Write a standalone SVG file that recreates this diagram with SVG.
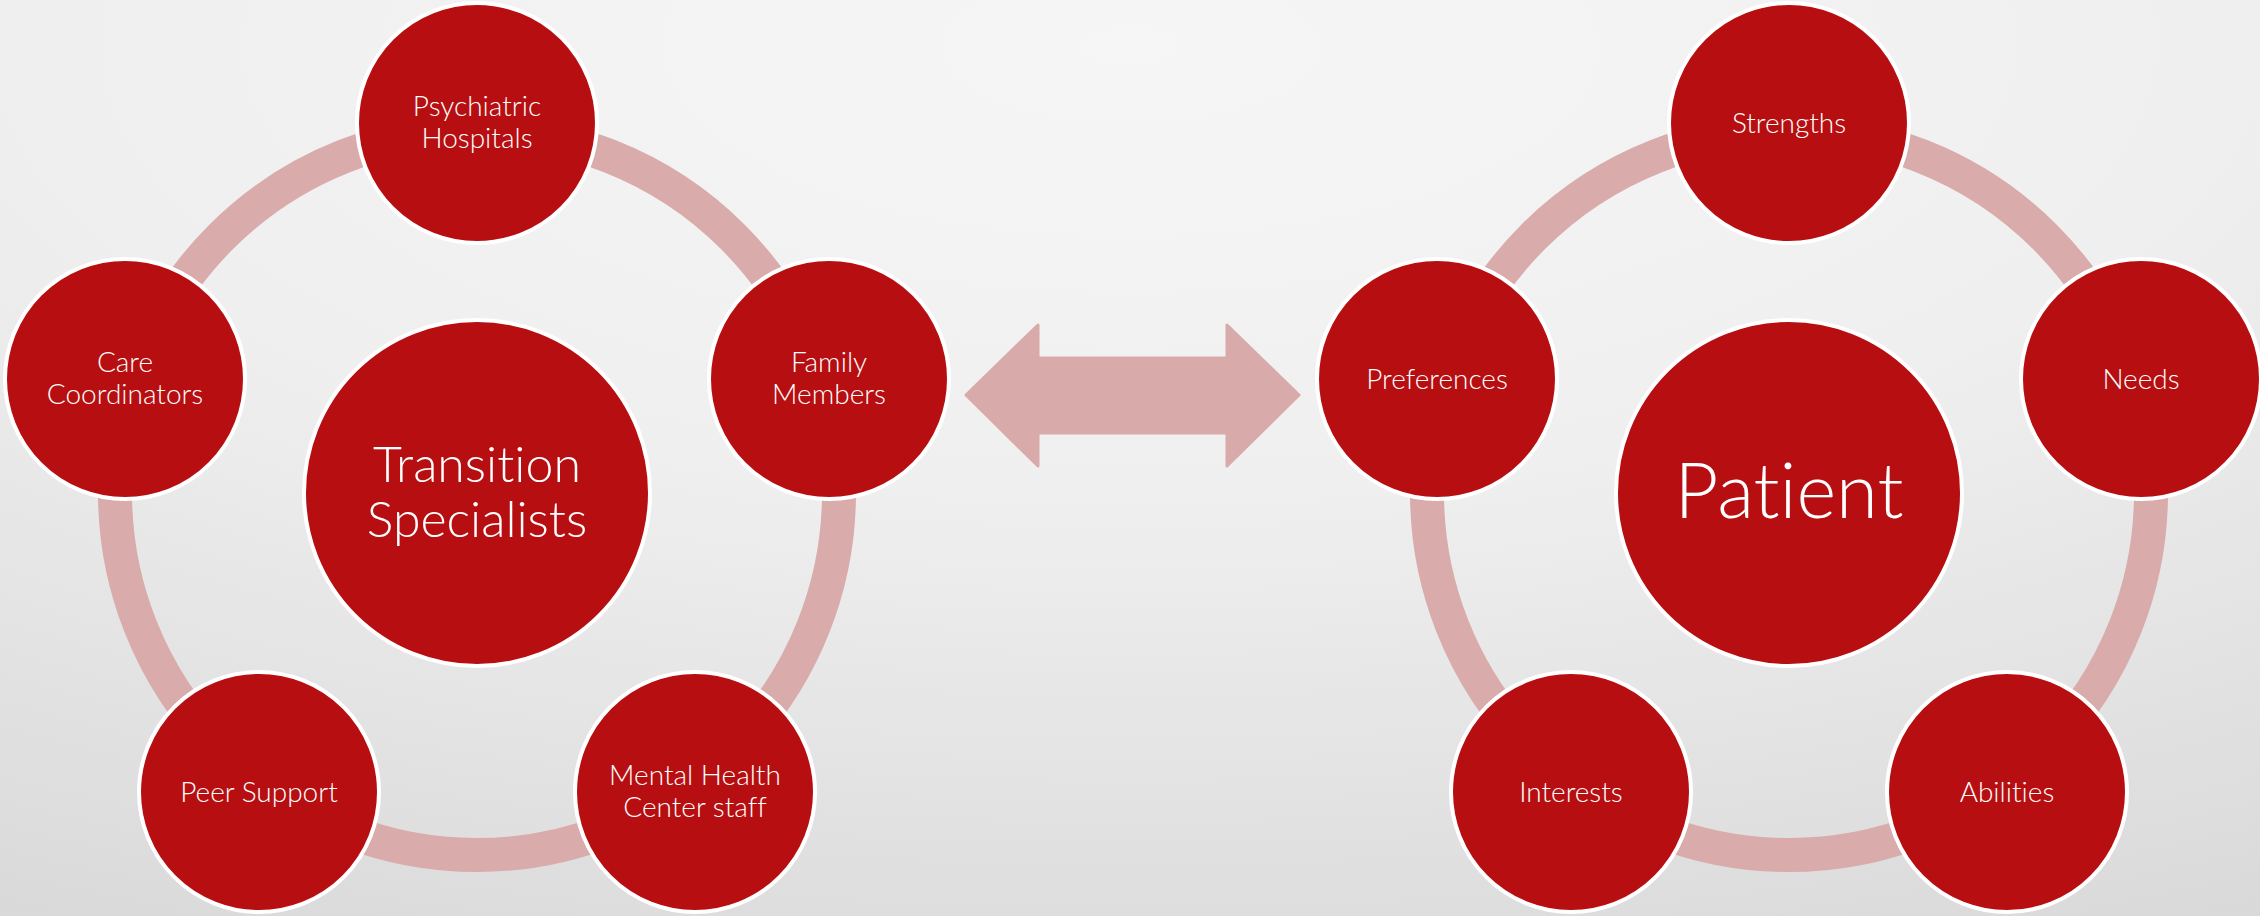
<svg xmlns="http://www.w3.org/2000/svg" width="2260" height="916" viewBox="0 0 2260 916">
<defs>
<radialGradient id="bg" cx="0.5" cy="0.05" r="1.1" gradientUnits="objectBoundingBox">
<stop offset="0" stop-color="#f6f6f6"/>
<stop offset="0.45" stop-color="#efefef"/>
<stop offset="1" stop-color="#d8d8d8"/>
</radialGradient>
<style>
.ring{fill:none;stroke:#d9abab;stroke-width:34}
.node{fill:#b70f11;stroke:#ffffff;stroke-width:4}
.t{fill:#ffffff;font-family:Lato,"Open Sans","Liberation Sans",sans-serif;font-weight:300;text-anchor:middle;font-variant-ligatures:none}
.s{font-size:28px}
.m{font-size:50px}
.l{font-size:76px}
.arrow{fill:#d9aaaa;stroke:#d9aaaa;stroke-width:3;stroke-linejoin:round}
</style>
</defs>
<rect width="2260" height="916" fill="url(#bg)"/>
<g id="connectors">
<circle class="ring" cx="477" cy="493" r="362"/>
<circle class="ring" cx="1789" cy="493" r="362"/>
<polygon class="arrow" points="966,395 1038,325 1038,358 1227,358 1227,325 1299,395 1227,466 1227,433 1038,433 1038,466"/>
</g>
<g id="transition-specialists">
<circle class="node" cx="477" cy="493" r="173"/>
<text class="t m" x="477" y="482">Transition</text>
<text class="t m" x="477" y="537">Specialists</text>
</g>
<g id="psychiatric-hospitals">
<circle class="node" cx="477" cy="123" r="120"/>
<text class="t s" x="477" y="116">Psychiatric</text>
<text class="t s" x="477" y="148">Hospitals</text>
</g>
<g id="family-members">
<circle class="node" cx="829" cy="379" r="120"/>
<text class="t s" x="829" y="372">Family</text>
<text class="t s" x="829" y="404">Members</text>
</g>
<g id="mental-health">
<circle class="node" cx="695" cy="792" r="120"/>
<text class="t s" x="695" y="785">Mental Health</text>
<text class="t s" x="695" y="817">Center staff</text>
</g>
<g id="peer-support">
<circle class="node" cx="259" cy="792" r="120"/>
<text class="t s" x="259" y="802">Peer Support</text>
</g>
<g id="care-coordinators">
<circle class="node" cx="125" cy="379" r="120"/>
<text class="t s" x="125" y="372">Care</text>
<text class="t s" x="125" y="404">Coordinators</text>
</g>
<g id="patient">
<circle class="node" cx="1789" cy="493" r="173"/>
<text class="t l" x="1789" y="518">Patient</text>
</g>
<g id="strengths">
<circle class="node" cx="1789" cy="123" r="120"/>
<text class="t s" x="1789" y="133">Strengths</text>
</g>
<g id="needs">
<circle class="node" cx="2141" cy="379" r="120"/>
<text class="t s" x="2141" y="389">Needs</text>
</g>
<g id="abilities">
<circle class="node" cx="2007" cy="792" r="120"/>
<text class="t s" x="2007" y="802">Abilities</text>
</g>
<g id="interests">
<circle class="node" cx="1571" cy="792" r="120"/>
<text class="t s" x="1571" y="802">Interests</text>
</g>
<g id="preferences">
<circle class="node" cx="1437" cy="379" r="120"/>
<text class="t s" x="1437" y="389">Preferences</text>
</g>
</svg>
